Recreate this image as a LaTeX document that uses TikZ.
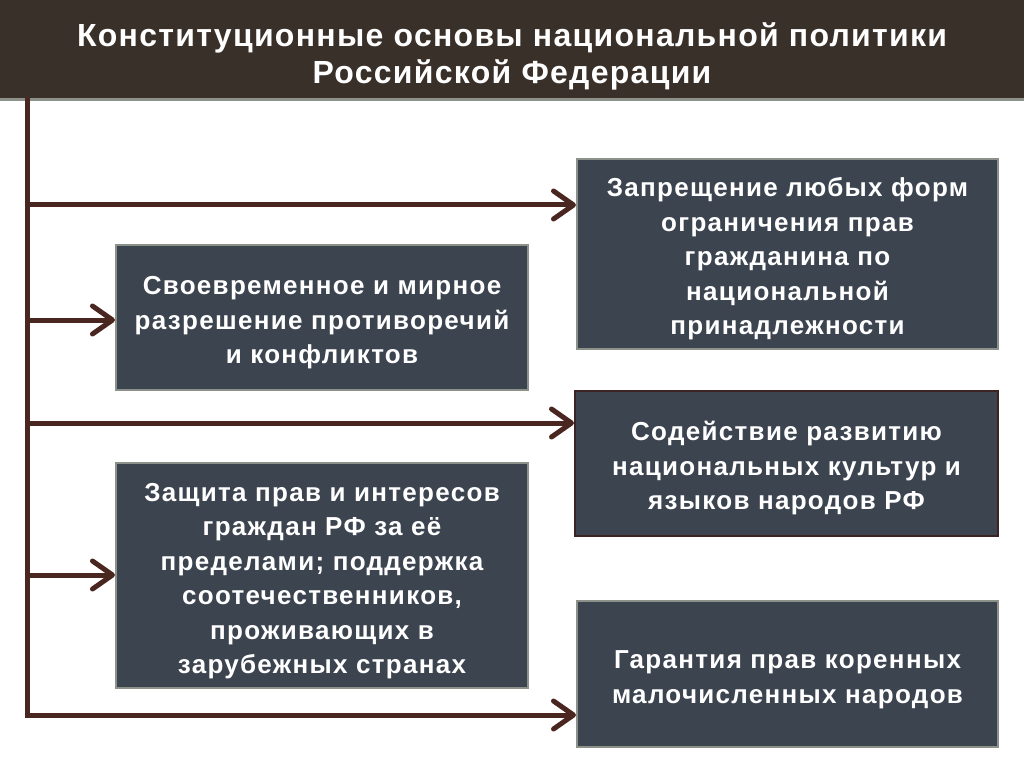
\documentclass[tikz,border=0pt]{standalone}
\usepackage{fontspec}
\setmainfont{Liberation Sans}
\newfontfamily\boxfont[LetterSpace=5]{Liberation Sans}
\newfontfamily\titlefont[LetterSpace=4]{Liberation Sans}
\usetikzlibrary{arrows.meta,positioning}
\definecolor{headbrown}{HTML}{3A302A}
\definecolor{linebrown}{HTML}{4A2620}
\definecolor{boxslate}{HTML}{3C4450}
\definecolor{boxrim}{HTML}{8C918A}
\definecolor{boxrimdark}{HTML}{3A2524}
\newcommand\toplift{\rule{0pt}{29pt}}
\tikzset{
	stem/.style={line width=5pt, color=linebrown, line cap=rect},
	branch/.style={line width=5pt, color=linebrown, -{Straight Barb[length=20pt,width=28pt,line cap=round,line join=round]}},
	infobox/.style={draw=boxrim, line width=2pt, fill=boxslate, text=white, inner sep=0pt,
		align=center, font=\boxfont\bfseries\fontsize{26}{34.5}\selectfont},
}
\begin{document}
\begin{tikzpicture}[x=1pt,y=-1pt]
		%%%%% START %%%%%
		\useasboundingbox (0,0) rectangle (1024,767);
		\fill[white] (0,0) rectangle (1024,767);
		
		\fill[headbrown] (0,0) rectangle (1024,100);
		\fill[boxrim] (0,98) rectangle (1024,101);
		\node[text=white, align=center, font=\titlefont\bfseries\fontsize{32}{37}\selectfont] (title) at (512,56)
			{Конституционные основы национальной политики\\Российской Федерации};
		
		\node[infobox, minimum width=421pt, minimum height=190pt] (zap) at (787.5,254)
			{\toplift Запрещение любых форм\\ограничения прав\\гражданина по\\национальной\\принадлежности};
		\node[infobox, minimum width=412pt, minimum height=145pt] (svo) at (322,317.5)
			{\toplift Своевременное и мирное\\разрешение противоречий\\и конфликтов};
		\node[infobox, draw=boxrimdark, minimum width=423pt, minimum height=145pt] (sod) at (786.5,463.5)
			{\toplift Содействие развитию\\национальных культур и\\языков народов РФ};
		\node[infobox, minimum width=412pt, minimum height=225pt] (zas) at (322,575.5)
			{\toplift Защита прав и интересов\\граждан РФ за её\\пределами; поддержка\\соотечественников,\\проживающих в\\зарубежных странах};
		\node[infobox, minimum width=421pt, minimum height=146pt] (gar) at (787.5,674)
			{\toplift Гарантия прав коренных\\малочисленных народов};
		
		\coordinate (top) at (27,101);
		\coordinate (t1) at (27,205);
		\coordinate (t2) at (27,320);
		\coordinate (t3) at (27,423);
		\coordinate (t4) at (27,575);
		\coordinate (t5) at (27,715);
		
		\draw[stem] (top) -- (t5);
		\draw[branch] (t1) -- (t1 -| zap.west);
		\draw[branch] (t2) -- (t2 -| svo.west);
		\draw[branch] (t3) -- (t3 -| sod.west);
		\draw[branch] (t4) -- (t4 -| zas.west);
		\draw[branch] (t5) -- (t5 -| gar.west);
		%%%%% END %%%%%
	\end{tikzpicture}
\end{document}
